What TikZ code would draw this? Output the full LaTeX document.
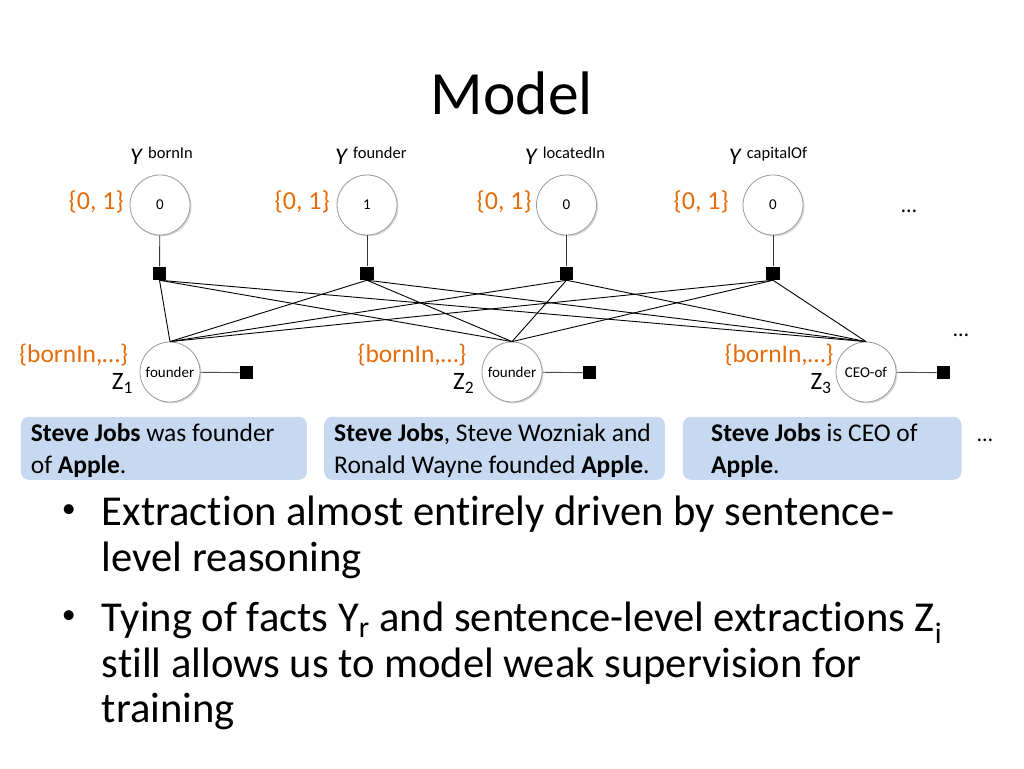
\documentclass[tikz,border=0pt]{standalone}
\usepackage{fontspec}
\setmainfont{Carlito}[Ligatures=NoCommon]
\usetikzlibrary{shadows}

\definecolor{setorange}{RGB}{228,108,10}
\definecolor{sentblue}{RGB}{198,217,241}
% font size and line spacing in pixels (1pt = 1px here)
\newcommand{\pxsize}[2]{\fontsize{#1}{#2}\selectfont}

\tikzset{
  var/.style={circle, draw=black!40, line width=0.8pt, fill=white, minimum size=60pt, inner sep=0pt,
    drop shadow={shadow xshift=1.5pt, shadow yshift=-1.5pt, opacity=0.3},
    font=\pxsize{15}{15}},
  factor/.style={rectangle, fill=black, minimum size=13.5pt, inner sep=0pt},
  tie/.style={line width=0.9pt},
  valueset/.style={text=setorange, font=\pxsize{26}{26}, inner sep=0pt, anchor=east},
  varlabel/.style={font=\pxsize{24}{24}, inner sep=0pt, anchor=base west},
  sentence/.style={rectangle, rounded corners=8pt, fill=sentblue, minimum height=63pt,
    inner sep=0pt, anchor=south west},
  sentext/.style={font=\pxsize{25.5}{32}, align=left, inner sep=0pt, anchor=base west},
  dots/.style={font=\pxsize{22}{22}, inner sep=0pt, anchor=base},
  bulletdot/.style={font=\pxsize{28}{28}, inner sep=0pt, anchor=base west},
  bulletext/.style={font=\pxsize{42.6}{45.5}, align=left, inner sep=0pt, anchor=base west}
}

\begin{document}
\begin{tikzpicture}[x=1pt, y=1pt]
\useasboundingbox (0,0) rectangle (1024,768);

% Title of the slide
\node[font=\pxsize{61.5}{61.5}, inner sep=0pt, anchor=base] (title) at (512,653) {Model};

% The relation variables Y, one per relation,
% each with its set of values {0, 1} written on the left
\node[var] (yborn) at (160,563) {0};
\node[var] (yfound) at (367,563) {1};
\node[var] (yloc) at (566.5,563) {0};
\node[var] (ycap) at (773,563) {0};
\node[varlabel] (lborn) at (130,603) {\textit{Y}\kern5pt\raisebox{6pt}{\pxsize{16.5}{16.5}bornIn}};
\node[varlabel] (lfound) at (335,603) {\textit{Y}\kern5pt\raisebox{6pt}{\pxsize{16.5}{16.5}founder}};
\node[varlabel] (lloc) at (524.7,603) {\textit{Y}\kern5pt\raisebox{6pt}{\pxsize{16.5}{16.5}locatedIn}};
\node[varlabel] (lcap) at (728.7,603) {\textit{Y}\kern5pt\raisebox{6pt}{\pxsize{16.5}{16.5}capitalOf}};
\node[valueset] (vborn) at (124,566) {\{0, 1\}};
\node[valueset] (vfound) at (330,566) {\{0, 1\}};
\node[valueset] (vloc) at (532,566) {\{0, 1\}};
\node[valueset] (vcap) at (729,566) {\{0, 1\}};
\node[dots] (ydots) at (909,555) {…};

% Factor squares tying each Y to the sentence variables
\node[factor] (fborn) at (159.5,494.7) {};
\node[factor] (ffound) at (367,494.7) {};
\node[factor] (floc) at (566.5,494.7) {};
\node[factor] (fcap) at (773,494.7) {};
\draw[tie, black!80] (yborn) -- (fborn);
\draw[tie, black!80] (yfound) -- (ffound);
\draw[tie, black!80] (yloc) -- (floc);
\draw[tie, black!80] (ycap) -- (fcap);

% The sentence-level extraction variables Z
\node[var] (z1) at (170,396) {founder};
\node[var] (z2) at (512,396) {founder};
\node[var] (z3) at (866,396) {CEO-of};
\node[valueset, font=\pxsize{25.5}{25.5}] (rz1) at (128.3,413) {\{bornIn,…\}};
\node[valueset, font=\pxsize{25.5}{25.5}] (rz2) at (466.7,413) {\{bornIn,…\}};
\node[valueset, font=\pxsize{25.5}{25.5}] (rz3) at (833.7,413) {\{bornIn,…\}};
\node[varlabel, font=\pxsize{25}{25}] (nz1) at (111.7,378) {Z\textsubscript{1}};
\node[varlabel, font=\pxsize{25}{25}] (nz2) at (453,378) {Z\textsubscript{2}};
\node[varlabel, font=\pxsize{25}{25}] (nz3) at (810.3,378) {Z\textsubscript{3}};
\node[dots] (zdots) at (961,431) {…};

% Every factor is joined to the top of every Z
\draw[tie] (fborn.south) -- (z1.north);
\draw[tie] (fborn.south) -- (z2.north);
\draw[tie] (fborn.south) -- (z3.north);
\draw[tie] (ffound.south) -- (z1.north);
\draw[tie] (ffound.south) -- (z2.north);
\draw[tie] (ffound.south) -- (z3.north);
\draw[tie] (floc.south) -- (z1.north);
\draw[tie] (floc.south) -- (z2.north);
\draw[tie] (floc.south) -- (z3.north);
\draw[tie] (fcap.south) -- (z1.north);
\draw[tie] (fcap.south) -- (z2.north);
\draw[tie] (fcap.south) -- (z3.north);

% Local factor of each Z
\node[factor] (g1) at (246.5,395.3) {};
\node[factor] (g2) at (589.5,395.3) {};
\node[factor] (g3) at (943.5,395.3) {};
\draw[tie, black!70] (z1) -- (g1);
\draw[tie, black!70] (z2) -- (g2);
\draw[tie, black!70] (z3) -- (g3);

% The sentences behind the Z variables
% (the base of a two-line text is its last line)
\node[sentence, minimum width=286pt] (s1) at (20.7,288) {};
\node[sentence, minimum width=340.7pt] (s2) at (324,288) {};
\node[sentence, minimum width=278.6pt] (s3) at (682.7,288) {};
\node[sentext] (t1) at (30.7,294) {\textbf{Steve Jobs} was founder\\of \textbf{Apple}.};
\node[sentext] (t2) at (334,294) {\textbf{Steve Jobs}, Steve Wozniak and\\Ronald Wayne founded \textbf{Apple}.};
\node[sentext] (t3) at (711,294) {\textbf{Steve Jobs} is CEO of\\\textbf{Apple}.};
\node[dots] (sdots) at (985,326) {…};

% Bullet points below the diagram
\node[bulletdot] (dot1) at (61.7,250.3) {•};
\node[bulletext] (b1) at (101.7,196.5) {Extraction almost entirely driven by sentence-\\level reasoning};
\node[bulletdot] (dot2) at (61.7,144.3) {•};
\node[bulletext] (b2) at (101.7,45.3) {Tying of facts Y\textsubscript{r} and sentence-level extractions Z\textsubscript{i}\\still allows us to model weak supervision for\\training};
\end{tikzpicture}
\end{document}
